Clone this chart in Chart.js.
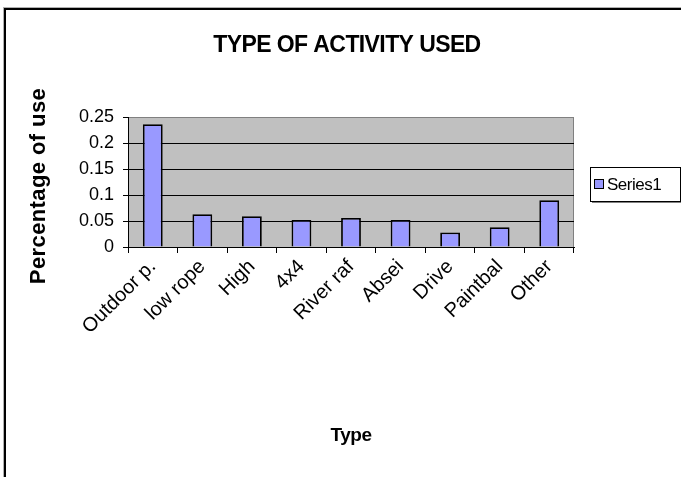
<!DOCTYPE html>
<html>
<head>
<meta charset="utf-8">
<script src="https://cdn.jsdelivr.net/npm/chart.js@4/dist/chart.umd.min.js"></script>
<style>
  body { margin: 0; background: #fff; }
  canvas { display: block; }
</style>
</head>
<body>
<canvas id="chart" width="681" height="477"></canvas>
<script>
// chart values
const categories = ['Outdoor p.', 'low rope', 'High', '4x4', 'River raf', 'Absei', 'Drive', 'Paintbal', 'Other'];
const series1 = [0.236, 0.063, 0.059, 0.052, 0.056, 0.052, 0.028, 0.038, 0.090];
const seriesName = 'Series1';
const yTicks = ['0', '0.05', '0.1', '0.15', '0.2', '0.25'];

const chartTitle = 'TYPE OF ACTIVITY USED';
const xTitle = 'Type';
const yTitle = 'Percentage of use';

const FONT = '"Liberation Sans", Arial, sans-serif';

// frame, grey plot area, titles and the boxed legend
const excelLook = {
  id: 'excelLook',
  beforeDraw(chart) {
    const ctx = chart.ctx;
    const a = chart.chartArea;
    ctx.save();
    // outer frame (runs off the right and bottom edge)
    ctx.fillStyle = '#b0b0b0';
    ctx.fillRect(3, 7, chart.width, 1);
    ctx.fillRect(3, 7, 1, chart.height);
    ctx.fillStyle = '#000';
    ctx.fillRect(4, 8, chart.width, 2);
    ctx.fillRect(4, 8, 2, chart.height);
    // plot background
    ctx.fillStyle = '#c0c0c0';
    ctx.fillRect(a.left, a.top, a.right - a.left, a.bottom - a.top);
    ctx.strokeStyle = '#808080';
    ctx.lineWidth = 1;
    ctx.beginPath();
    ctx.moveTo(a.right - 0.5, a.top);
    ctx.lineTo(a.right - 0.5, a.bottom);
    ctx.stroke();
    ctx.restore();
  },
  afterDraw(chart) {
    const ctx = chart.ctx;
    ctx.save();
    ctx.fillStyle = '#000';
    ctx.textAlign = 'center';
    ctx.textBaseline = 'alphabetic';

    // chart title
    ctx.font = 'bold 23px ' + FONT;
    ctx.letterSpacing = '-0.6px';
    ctx.fillText(chartTitle, 347, 52);

    // x title
    ctx.font = 'bold 19px ' + FONT;
    ctx.letterSpacing = '-0.5px';
    ctx.fillText(xTitle, 351, 441);

    // y title
    ctx.save();
    ctx.translate(45, 186);
    ctx.rotate(-Math.PI / 2);
    ctx.font = 'bold 22px ' + FONT;
    ctx.letterSpacing = '0.4px';
    ctx.fillText(yTitle, 0, 0);
    ctx.restore();

    // legend box
    const ds = chart.data.datasets[0];
    const lx = 590, ly = 167, lw = 91, lh = 34;
    ctx.fillStyle = '#808080';
    ctx.fillRect(lx + 2, ly + lh, lw, 2);
    ctx.strokeStyle = '#000';
    ctx.lineWidth = 1;
    ctx.strokeRect(lx + 0.5, ly + 0.5, lw - 1, lh);
    ctx.fillStyle = ds.backgroundColor;
    ctx.fillRect(594, 179, 10, 10);
    ctx.strokeRect(594.5, 179.5, 9, 9);
    ctx.fillStyle = '#000';
    ctx.textAlign = 'left';
    ctx.textBaseline = 'middle';
    ctx.font = '17px ' + FONT;
    ctx.letterSpacing = '-0.5px';
    ctx.fillText(ds.label, 607, 185);
    ctx.restore();
  }
};

new Chart(document.getElementById('chart'), {
  type: 'bar',
  data: {
    labels: categories,
    datasets: [{
      label: seriesName,
      data: series1,
      backgroundColor: '#9999ff',
      borderColor: '#000',
      borderWidth: 1.8,
      barPercentage: 0.4,
      categoryPercentage: 1.0
    }]
  },
  options: {
    responsive: false,
    animation: false,
    layout: { padding: { top: 117, right: 107, left: 0, bottom: 0 } },
    plugins: {
      legend: { display: false },
      title: { display: false },
      tooltip: { enabled: false }
    },
    scales: {
      x: {
        offset: true,
        afterFit(scale) { scale.height = 230; },
        grid: {
          offset: true,
          drawOnChartArea: false,
          drawTicks: true,
          tickLength: 6,
          color: '#000'
        },
        border: { color: '#000', width: 1 },
        ticks: {
          autoSkip: false,
          maxRotation: 45,
          minRotation: 45,
          padding: 2,
          color: '#000',
          font: { family: FONT, size: 20 }
        }
      },
      y: {
        min: 0,
        max: 0.25,
        afterFit(scale) { scale.width = 128; },
        grid: {
          color: ctx => ctx.index === yTicks.length - 1 ? '#808080' : '#000',
          tickColor: '#000',
          tickLength: 5,
          lineWidth: 1
        },
        border: { color: '#000', width: 1 },
        ticks: {
          stepSize: 0.05,
          padding: 9,
          color: '#000',
          font: { family: FONT, size: 18 },
          callback: (v, i) => yTicks[i]
        }
      }
    }
  },
  plugins: [excelLook]
});
</script>
</body>
</html>
